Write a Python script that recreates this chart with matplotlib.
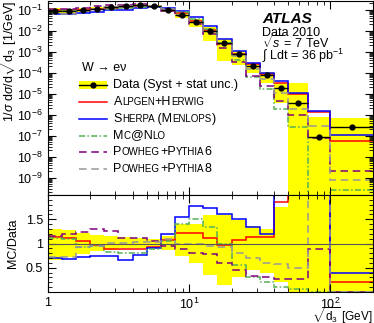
import matplotlib
matplotlib.use('Agg')
import numpy as np
import matplotlib.pyplot as plt
from matplotlib.lines import Line2D
from matplotlib.patches import Rectangle
from matplotlib.offsetbox import TextArea, DrawingArea, HPacker, VPacker, AnchoredOffsetbox
from matplotlib.ticker import LogLocator, FuncFormatter, FixedLocator, MultipleLocator, NullFormatter

plt.rcParams['font.family'] = ['Liberation Sans', 'DejaVu Sans']
plt.rcParams['mathtext.fontset'] = 'custom'
plt.rcParams['mathtext.rm'] = 'Liberation Sans'
plt.rcParams['mathtext.it'] = 'Liberation Sans:italic'
plt.rcParams['mathtext.bf'] = 'Liberation Sans:bold'
plt.rcParams['font.size'] = 9

# bin edges in sqrt(d3) [GeV]
edges = np.array([1.0, 1.26, 1.58, 2.0, 2.51, 3.16, 3.98, 5.01, 6.31, 7.94, 10.0,
                  12.6, 15.8, 20.0, 25.1, 31.6, 39.8, 50.1, 70.0, 100.0, 200.0])

# measured 1/sigma dsigma/dsqrt(d3)
data = np.array([0.089, 0.089, 0.095, 0.11, 0.13, 0.15, 0.16, 0.15, 0.095, 0.055,
                 0.025, 0.0092, 0.0025, 7.5e-4, 2.2e-4, 8.0e-5, 1.8e-5, 3.8e-6, 8.5e-8, 2.7e-7])

# relative data uncertainty (syst + stat)
band_hi = np.array([1.30, 1.27, 1.22, 1.18, 1.16, 1.13, 1.12, 1.10, 1.15, 1.40,
                    1.40, 1.58, 1.58, 1.48, 1.36, 1.29, 1.75, 9.0, 9.0, 2.7])
band_lo = np.array([0.67, 0.72, 0.78, 0.84, 0.86, 0.90, 0.91, 0.93, 0.86, 0.75,
                    0.60, 0.35, 0.15, 0.30, 0.45, 0.40, 0.20, 0.0, 0.0, 0.0])

# MC / data
alpgen = np.array([1.14, 1.12, 1.06, 0.97, 0.88, 0.88, 0.89, 0.93, 1.08, 1.22,
                   1.22, 1.12, 0.98, 1.08, 1.14, 1.14, 1.85, 2.6, 16.0, 0.21])
sherpa = np.array([0.71, 0.68, 0.72, 0.74, 0.74, 0.67, 0.77, 0.90, 1.20, 1.54,
                   1.78, 1.73, 1.62, 1.50, 1.35, 1.19, 2.3, 2.8, 17.0, 0.40])
mcnlo = np.array([1.12, 1.10, 0.93, 0.95, 0.83, 0.80, 0.80, 0.88, 1.05, 1.40,
                  1.50, 1.35, 1.00, 0.55, 0.30, 0.20, 0.10, 0.07, 1e-5, 1e-3])
powheg6 = np.array([1.15, 1.20, 1.24, 1.30, 1.25, 1.12, 1.12, 1.05, 0.95, 0.88,
                    0.80, 0.78, 0.60, 0.45, 0.32, 0.30, 0.26, 0.27, 0.88, 0.008])
powheg8 = np.array([0.72, 0.72, 0.92, 0.95, 1.02, 1.02, 1.03, 1.03, 1.10, 1.00,
                    1.00, 0.95, 0.92, 0.81, 0.70, 0.60, 0.58, 0.50, 3.3, 0.003])

YELLOW = '#ffff00'
mc_styles = [
    (alpgen, '#ff0000', '-'),
    (sherpa, '#0000ff', '-'),
    (mcnlo, '#55b055', (0, (4, 1.5, 1, 1.5))),
    (powheg6, '#800080', (0, (5, 3))),
    (powheg8, '#999999', (0, (5, 3))),
]

fig = plt.figure(figsize=(3.74, 3.23), dpi=100)
ax = fig.add_axes([0.128, 0.396, 0.869, 0.601])
rax = fig.add_axes([0.128, 0.096, 0.869, 0.300], sharex=ax)

centers = np.sqrt(edges[:-1] * edges[1:])

# top panel
ax.stairs(data * band_hi, edges, baseline=np.maximum(data * band_lo, 1e-13),
          fill=True, color=YELLOW, lw=0)
for vals, col, ls in mc_styles:
    ax.stairs(data * vals, edges, baseline=None, color=col, ls=ls, lw=1.1)
ax.errorbar(centers, data, xerr=[centers - edges[:-1], edges[1:] - centers],
            fmt='o', color='k', ms=3.5, lw=1.0, capsize=0)
ax.set_xscale('log')
ax.set_yscale('log')
ax.set_xlim(1, 200)
ax.set_ylim(1.5e-10, 0.26)
ax.yaxis.set_major_locator(LogLocator(base=10, numticks=20))
ax.yaxis.set_minor_locator(LogLocator(base=10, subs=np.arange(2, 10), numticks=20))
ax.yaxis.set_minor_formatter(NullFormatter())
ax.set_ylabel(r'1/$\sigma$ d$\sigma$/d$\sqrt{\mathrm{d}_3}$ [1/GeV]', loc='top')
ax.yaxis.set_label_coords(-0.09, 1.0)
plt.setp(ax.get_xticklabels(), visible=False)

# ratio panel
rax.stairs(band_hi, edges, baseline=band_lo, fill=True, color=YELLOW, lw=0)
rax.axhline(1.0, color='#555555', lw=0.8)
for vals, col, ls in mc_styles:
    rax.stairs(vals, edges, baseline=None, color=col, ls=ls, lw=1.1)
rax.set_ylim(0, 2)
rax.yaxis.set_major_locator(FixedLocator([0.5, 1.0, 1.5]))
rax.yaxis.set_major_formatter(FuncFormatter(lambda v, p: '%g' % v))
rax.yaxis.set_minor_locator(MultipleLocator(0.1))
rax.set_ylabel('MC/Data')
rax.yaxis.set_label_coords(-0.09, 0.5)
rax.xaxis.set_major_formatter(FuncFormatter(lambda v, p: '1' if v == 1 else r'$10^{%d}$' % round(np.log10(v))))
rax.xaxis.set_minor_formatter(NullFormatter())
rax.set_xlabel(r'$\sqrt{\mathrm{d}_3}$ [GeV]', loc='right', fontsize=8.5)
rax.xaxis.set_label_coords(1.0, -0.14)

for a in (ax, rax):
    a.tick_params(which='both', direction='in', top=True, right=True, labelsize=9)
    a.tick_params(which='major', length=6, width=0.8)
    a.tick_params(which='minor', length=3, width=0.6)

# legend with small caps generator names
BIG, SMALL = 9, 7


def sc(parts):
    return HPacker(children=[TextArea(t, textprops=dict(size=s)) for t, s in parts],
                   align='baseline', pad=0, sep=0)


def line_handle(col, ls):
    da = DrawingArea(20, 8, 0, 0)
    da.add_artist(Line2D([0, 20], [4, 4], color=col, ls=ls, lw=1.1))
    return da


data_handle = DrawingArea(20, 8, 0, 0)
data_handle.add_artist(Rectangle((0, 1), 20, 6, color=YELLOW, lw=0))
data_handle.add_artist(Line2D([0, 20], [4, 4], color='k', lw=1.0))
data_handle.add_artist(Line2D([10], [4], color='k', marker='o', ms=3.5))

labels = [
    sc([('Data (Syst + stat unc.)', BIG)]),
    sc([('A', BIG), ('LPGEN', SMALL), ('+H', BIG), ('ERWIG', SMALL)]),
    sc([('S', BIG), ('HERPA', SMALL), (' (M', BIG), ('ENLOPS', SMALL), (')', BIG)]),
    sc([('M', BIG), ('C', SMALL), ('@N', BIG), ('LO', SMALL)]),
    sc([('P', BIG), ('OWHEG', SMALL), ('+P', BIG), ('YTHIA', SMALL), ('6', BIG)]),
    sc([('P', BIG), ('OWHEG', SMALL), ('+P', BIG), ('YTHIA', SMALL), ('8', BIG)]),
]
handles = [data_handle] + [line_handle(col, ls) for _, col, ls in mc_styles]

rows = [HPacker(children=[DrawingArea(2, 8), TextArea('W → eν', textprops=dict(size=BIG))],
                align='center', pad=0, sep=0)]
for h, l in zip(handles, labels):
    rows.append(HPacker(children=[h, l], align='center', pad=0, sep=5))
leg = AnchoredOffsetbox(loc='upper left', child=VPacker(children=rows, align='left', pad=0, sep=3.5),
                        pad=0, borderpad=0, frameon=False,
                        bbox_to_anchor=(0.095, 0.685), bbox_transform=ax.transAxes)
ax.add_artist(leg)

ax.text(0.66, 0.887, 'ATLAS', transform=ax.transAxes, fontsize=11,
        fontweight='bold', fontstyle='italic', va='baseline')
ax.text(0.66, 0.822, 'Data 2010', transform=ax.transAxes, fontsize=9, va='baseline')
ax.text(0.66, 0.756, r'$\sqrt{s}$ = 7 TeV', transform=ax.transAxes, fontsize=9, va='baseline')
ax.text(0.66, 0.694, r'$\int$ Ldt = 36 pb$^{-1}$', transform=ax.transAxes, fontsize=9, va='baseline')

fig.savefig('out.png', dpi=100)
